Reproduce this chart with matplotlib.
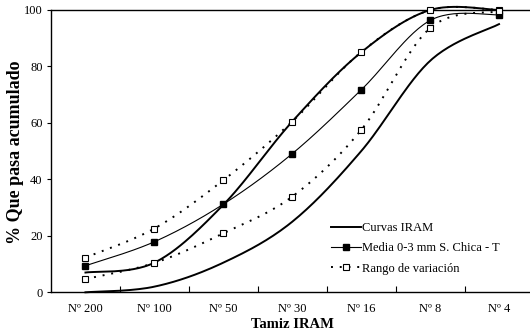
import numpy as np
import matplotlib
matplotlib.use("Agg")
import matplotlib.pyplot as plt
from matplotlib.lines import Line2D

plt.rcParams['font.family'] = ['Liberation Serif', 'DejaVu Serif']

# Datos
tamices = ["Nº 200", "Nº 100", "Nº 50", "Nº 30", "Nº 16", "Nº 8", "Nº 4"]
iram_sup = [7.0, 10.5, 31.0, 60.5, 85.0, 100.0, 100.0]
iram_inf = [0.0, 2.0, 10.5, 25.0, 50.0, 82.0, 95.0]
media = [9.4, 17.9, 31.2, 49.1, 71.7, 96.3, 98.3]
rango_sup = [12.3, 22.6, 39.7, 60.5, 85.1, 100.0, 100.0]
rango_inf = [4.7, 10.4, 20.9, 33.9, 57.5, 93.6, 99.5]


def suavizar(y, n=30):
    # linea suavizada tipo Excel (bezier / catmull-rom)
    y = np.asarray(y, dtype=float)
    x = np.arange(len(y), dtype=float)
    xp = np.concatenate([[x[0]], x, [x[-1]]])
    yp = np.concatenate([[y[0]], y, [y[-1]]])
    xs, ys = [], []
    for i in range(len(y) - 1):
        p0, p1, p2, p3 = [np.array([xp[i + k], yp[i + k]]) for k in range(4)]
        c1 = p1 + (p2 - p0) / 6
        c2 = p2 - (p3 - p1) / 6
        t = np.linspace(0, 1, n)[:, None]
        b = (1 - t) ** 3 * p1 + 3 * (1 - t) ** 2 * t * c1 + 3 * (1 - t) * t ** 2 * c2 + t ** 3 * p2
        xs.extend(b[:, 0])
        ys.extend(b[:, 1])
    return np.array(xs), np.array(ys)


fig = plt.figure(figsize=(5.3, 3.36), dpi=100)
ax = fig.add_axes([51 / 530, 43.7 / 336, 482.5 / 530, 282.3 / 336])

x = np.arange(len(tamices))

for serie in [iram_sup, iram_inf]:
    sx, sy = suavizar(serie)
    ax.plot(sx, sy, color='black', lw=1.4, clip_on=False)

sx, sy = suavizar(media)
ax.plot(sx, sy, color='black', lw=0.8, clip_on=False)
ax.plot(x, media, ls='none', marker='s', ms=4.5, mfc='black', mec='black', clip_on=False, zorder=5)

for serie in [rango_sup, rango_inf]:
    sx, sy = suavizar(serie)
    ax.plot(sx, sy, color='black', lw=1.4, ls=(0, (1, 3.5)), clip_on=False)
    ax.plot(x, serie, ls='none', marker='s', ms=4.5, mfc='white', mec='black', mew=0.8, clip_on=False, zorder=5)

ax.set_xlim(-0.5, 6.5)
ax.set_ylim(0, 100)
ax.set_xticks(x)
ax.set_xticklabels(tamices, fontsize=9)
ax.set_xticks(np.arange(0.5, 6.5, 1), minor=True)
ax.tick_params(axis='x', which='major', length=0, pad=8)
ax.tick_params(axis='x', which='minor', direction='in', length=4, width=0.8)
ax.set_yticks([0, 20, 40, 60, 80, 100])
ax.tick_params(axis='y', direction='out', length=3, width=0.8, labelsize=9, pad=3)

for s in ['left', 'bottom', 'top']:
    ax.spines[s].set_linewidth(1.0)
ax.spines['right'].set_visible(False)

# titulos de ejes
fig.text(292 / 530, 1 - 325 / 336, "Tamiz IRAM", fontsize=10.5, fontweight='bold',
         ha='center', va='center')
fig.text(15.5 / 530, 1 - 152 / 336, "% Que pasa acumulado", fontsize=13, fontweight='bold',
         ha='center', va='center', rotation=90)

handles = [
    Line2D([], [], color='black', lw=1.4),
    Line2D([], [], color='black', lw=0.8, marker='s', ms=4.5, mfc='black'),
    Line2D([], [], color='black', lw=1.4, ls=(0, (1, 3.5)), marker='s', ms=4.5, mfc='white', mew=0.8),
]
labels = ["Curvas IRAM", "Media 0-3 mm S. Chica - T", "Rango de variación"]
ax.legend(handles, labels, loc='lower left', bbox_to_anchor=(0.569, 0.045), frameon=False,
          fontsize=9, handlelength=2.4, handletextpad=0.1, labelspacing=0.65, borderaxespad=0)

fig.savefig("out.png", dpi=100)
